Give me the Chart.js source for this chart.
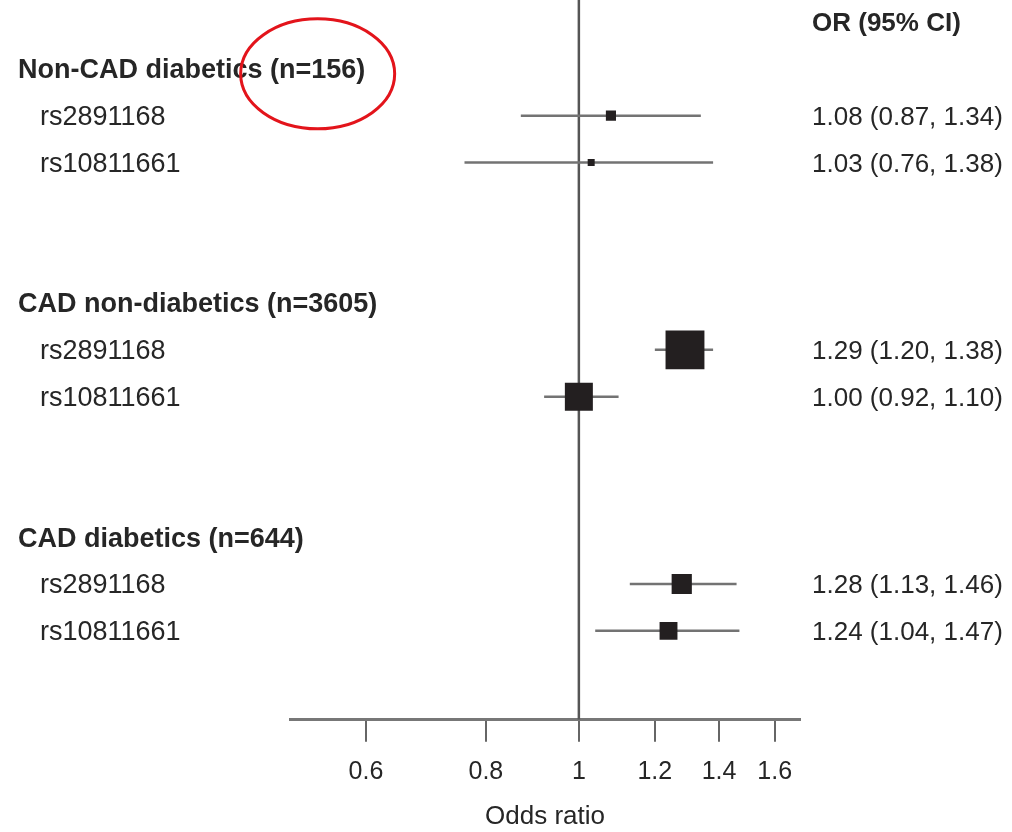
<!DOCTYPE html>
<html>
<head>
<meta charset="utf-8">
<script src="https://cdn.jsdelivr.net/npm/chart.js@4.4.0/dist/chart.umd.min.js"></script>
<style>
  html, body { margin: 0; padding: 0; background: #fff; }
  canvas { display: block; }
</style>
</head>
<body>
<canvas id="forest" width="1012" height="832"></canvas>
<script>
// Forest plot data
const groups = ['Non-CAD diabetics (n=156)', 'CAD non-diabetics (n=3605)', 'CAD diabetics (n=644)'];
const snps = ['rs2891168', 'rs10811661'];
const oddsRatio = [1.08, 1.03, 1.29, 1.00, 1.28, 1.24];
const ciLower = [0.87, 0.76, 1.20, 0.92, 1.13, 1.04];
const ciUpper = [1.34, 1.38, 1.38, 1.10, 1.46, 1.47];
const weights = [0.26, 0.18, 1.0, 0.72, 0.52, 0.46]; // relative study weight (box size)
const xTicks = [0.6, 0.8, 1, 1.2, 1.4, 1.6];

const FONT = '"Liberation Sans", Arial, Helvetica, sans-serif';
const TEXT_COLOR = '#262626';
const Y_MIN = -0.47;
const Y_MAX = 14.9;
const TEXT_NUDGE = 2; // glyphs sit a little above the em-box middle

// row index helpers: header row 0, each group takes 5 rows
function groupRow(g) { return 1 + g * 5; }
function snpRow(g, s) { return 2 + g * 5 + s; }

function fmt(v) { return v.toFixed(2); }

// Build datasets from the arrays
const boxPoints = [];
const ciLines = [];
groups.forEach((g, gi) => {
  snps.forEach((s, si) => {
    const i = gi * snps.length + si;
    const row = snpRow(gi, si);
    boxPoints.push({ x: oddsRatio[i], y: row, w: weights[i] });
    ciLines.push({
      type: 'line',
      data: [{ x: ciLower[i], y: row }, { x: ciUpper[i], y: row }],
      borderColor: '#737373',
      borderWidth: 2.5,
      pointRadius: 0,
      order: 1
    });
  });
});

// Text columns and the red ellipse annotation
const labelPlugin = {
  id: 'forestLabels',
  afterDraw(chart) {
    const ctx = chart.ctx;
    const y = chart.scales.y;
    const rowY = (r) => y.getPixelForValue(r) + TEXT_NUDGE;
    const rightX = chart.chartArea.right + 12;
    ctx.save();
    ctx.textBaseline = 'middle';
    ctx.textAlign = 'left';
    ctx.fillStyle = TEXT_COLOR;

    ctx.font = 'bold 26px ' + FONT;
    ctx.fillText('OR (95% CI)', rightX, rowY(0));

    groups.forEach((g, gi) => {
      ctx.font = 'bold 27px ' + FONT;
      ctx.fillText(g, 18, rowY(groupRow(gi)));
      snps.forEach((s, si) => {
        const i = gi * snps.length + si;
        const yp = rowY(snpRow(gi, si));
        ctx.font = '27px ' + FONT;
        ctx.fillText(s, 40, yp);
        ctx.font = '26px ' + FONT;
        ctx.fillText(`${fmt(oddsRatio[i])} (${fmt(ciLower[i])}, ${fmt(ciUpper[i])})`, rightX, yp);
      });
    });

    // red ellipse round the "(n=156)" part of the first header
    ctx.font = 'bold 27px ' + FONT;
    const head = groups[0];
    const cut = head.indexOf('(');
    const preW = ctx.measureText(head.slice(0, cut)).width;
    const fullW = ctx.measureText(head).width;
    const cx = 18 + (preW + fullW) / 2;
    const cy = rowY(groupRow(0)) + 3;
    ctx.beginPath();
    ctx.ellipse(cx, cy, 77, 55, 0, 0, Math.PI * 2);
    ctx.strokeStyle = '#e3141b';
    ctx.lineWidth = 3;
    ctx.stroke();
    ctx.restore();
  }
};

const ctx = document.getElementById('forest').getContext('2d');
const chart = new Chart(ctx, {
  data: {
    datasets: [
      {
        type: 'scatter',
        data: boxPoints,
        backgroundColor: '#231f20',
        borderColor: '#231f20',
        borderWidth: 0,
        pointStyle: 'rect',
        pointRadius: (c) => (c.raw ? c.raw.w * 27.5 : 0),
        order: 0
      },
      ...ciLines,
      {
        type: 'line',
        data: [{ x: 1, y: Y_MIN }, { x: 1, y: Y_MAX }],
        borderColor: '#555',
        borderWidth: 2.5,
        pointRadius: 0,
        order: 2
      }
    ]
  },
  options: {
    responsive: false,
    animation: false,
    layout: { autoPadding: false, padding: { left: 290, right: 212, top: 0, bottom: 0 } },
    plugins: {
      legend: { display: false },
      tooltip: { enabled: false }
    },
    scales: {
      x: {
        type: 'logarithmic',
        position: 'bottom',
        min: 0.5,
        max: 1.7,
        bounds: 'data',
        afterBuildTicks: (axis) => { axis.ticks = xTicks.map(v => ({ value: v })); },
        ticks: {
          autoSkip: false,
          maxRotation: 0,
          padding: 15,
          color: TEXT_COLOR,
          font: { family: FONT, size: 25 },
          callback: (v) => String(v)
        },
        grid: {
          drawOnChartArea: false,
          drawTicks: true,
          tickLength: 22,
          color: '#666',
          lineWidth: 2
        },
        border: { display: true, color: '#777', width: 3 },
        title: {
          display: true,
          text: 'Odds ratio',
          color: TEXT_COLOR,
          font: { family: FONT, size: 26 },
          padding: { top: -1, bottom: 0 }
        }
      },
      y: {
        type: 'linear',
        display: false,
        reverse: true,
        min: Y_MIN,
        max: Y_MAX,
        bounds: 'data'
      }
    }
  },
  plugins: [labelPlugin]
});
</script>
</body>
</html>
